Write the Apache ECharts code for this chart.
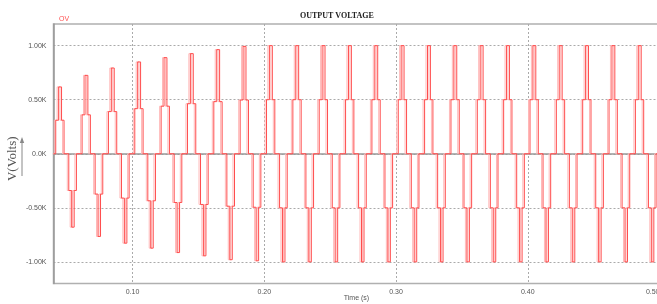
<!DOCTYPE html>
<html>
<head>
<meta charset="utf-8">
<script src="https://cdn.jsdelivr.net/npm/echarts@6/dist/echarts.min.js"></script>
<style>
html,body{margin:0;padding:0;background:#fff;}
#chart{width:657px;height:304px;}
</style>
</head>
<body>
<div id="chart"></div>
<script>
// ---- data ----
const periodStart = [0.04,0.06,0.08,0.10,0.12,0.14,0.16,0.18,0.20,0.22,0.24,0.26,0.28,0.30,0.32,0.34,0.36,0.38,0.40,0.42,0.44,0.46,0.48];
// switching instants inside each 20 ms period (s)
const switchOffset = [0.0017,0.0039,0.0061,0.0080,0.0116,0.0138,0.0157,0.0174];
const posLevel1 = [310,360,390,417,440,463,482,497,500,500,500,500,500,500,500,500,500,500,500,500,500,500,500];
const posPeak   = [618,725,793,849,889,926,963,993,1000,1000,1000,1000,1000,1000,1000,1000,1000,1000,1000,1000,1000,1000,1000];
const negLevel1 = [-340,-373,-410,-435,-451,-469,-485,-495,-500,-500,-500,-500,-500,-500,-500,-500,-500,-500,-500,-500,-500,-500,-500];
const negPeak   = [-679,-765,-827,-873,-914,-944,-980,-990,-1000,-1000,-1000,-1000,-1000,-1000,-1000,-1000,-1000,-1000,-1000,-1000,-1000,-1000,-1000];
const tStart = 0.04, tEnd = 0.50;

const xTickValues = [0.10,0.20,0.30,0.40,0.50];
const xTickLabels = ['0.10','0.20','0.30','0.40','0.50'];
const yTickValues = [-1000,-500,0,500,1000];
const yTickLabels = ['-1.00K','-0.50K','0.0K','0.50K','1.00K'];

// ---- build step series ----
const pts = [[tStart, 0]];
periodStart.forEach((t, k) => {
  const lv = [posLevel1[k], posPeak[k], posLevel1[k], 0, negLevel1[k], negPeak[k], negLevel1[k], 0];
  switchOffset.forEach((o, i) => pts.push([+(t + o).toFixed(5), lv[i]]));
});
pts.push([tEnd, 0]);

function lab(values, labels) {
  return v => { const i = values.findIndex(x => Math.abs(x - v) < 1e-9); return i >= 0 ? labels[i] : ''; };
}

const chart = echarts.init(document.getElementById('chart'), null, {renderer: 'canvas'});
chart.setOption({
  animation: false,
  backgroundColor: '#ffffff',
  title: [
    {text: 'OUTPUT VOLTAGE', left: 295, top: 7,
     textStyle: {fontFamily: 'Liberation Serif', fontWeight: 'bold', fontSize: 8, color: '#222'}},
    {text: 'OV', left: 54, top: 11,
     textStyle: {fontFamily: 'Liberation Sans', fontWeight: 'normal', fontSize: 7, color: '#ff5050'}}
  ],
  grid: {left: 53.5, right: -2.5, top: 24, bottom: 20.5, show: true, borderColor: '#b0b0b0', borderWidth: 1.5,
         containLabel: false, outerBoundsMode: 'none'},
  xAxis: {
    type: 'value', min: tStart, max: tEnd,
    name: 'Time (s)', nameLocation: 'middle', nameGap: 11, nameMoveOverlap: false,
    nameTextStyle: {fontFamily: 'Liberation Sans', fontSize: 7, color: '#555'},
    axisLine: {show: true, lineStyle: {color: '#999', width: 1.5}},
    axisTick: {show: false, customValues: xTickValues},
    axisLabel: {customValues: xTickValues, formatter: lab(xTickValues, xTickLabels), alignMaxLabel: 'right',
      fontFamily: 'Liberation Sans', fontSize: 7, color: '#555', margin: 5},
    splitLine: {show: true, lineStyle: {color: '#aaa', type: [2, 2], width: 1}}
  },
  yAxis: {
    type: 'value', min: -1200, max: 1200,
    name: 'V(Volts)', nameLocation: 'middle', nameRotate: 90, nameGap: 34, nameMoveOverlap: false,
    nameTextStyle: {fontFamily: 'Liberation Serif', fontSize: 13, color: '#555', padding: [0, 0, 0, -10]},
    axisLine: {show: true, lineStyle: {color: '#999', width: 1.5}},
    axisTick: {show: false, customValues: yTickValues},
    axisLabel: {customValues: yTickValues, formatter: lab(yTickValues, yTickLabels),
      fontFamily: 'Liberation Sans', fontSize: 7, color: '#555', margin: 7},
    splitLine: {show: true, lineStyle: {color: '#aaa', type: [2, 2], width: 1}}
  },
  graphic: [
    {type: 'line', shape: {x1: 22, y1: 176, x2: 22, y2: 142}, style: {stroke: '#888', lineWidth: 1}},
    {type: 'polygon', shape: {points: [[22, 137], [19.8, 143], [24.2, 143]]}, style: {fill: '#888'}}
  ],
  series: [{
    type: 'line', step: 'end', data: pts, showSymbol: false, symbol: 'none',
    sampling: false, clip: true,
    lineStyle: {color: '#ff4d4d', width: 1, shadowColor: '#ffb8b8', shadowOffsetX: -1.5, shadowBlur: 0}
  }]
});
</script>
</body>
</html>
